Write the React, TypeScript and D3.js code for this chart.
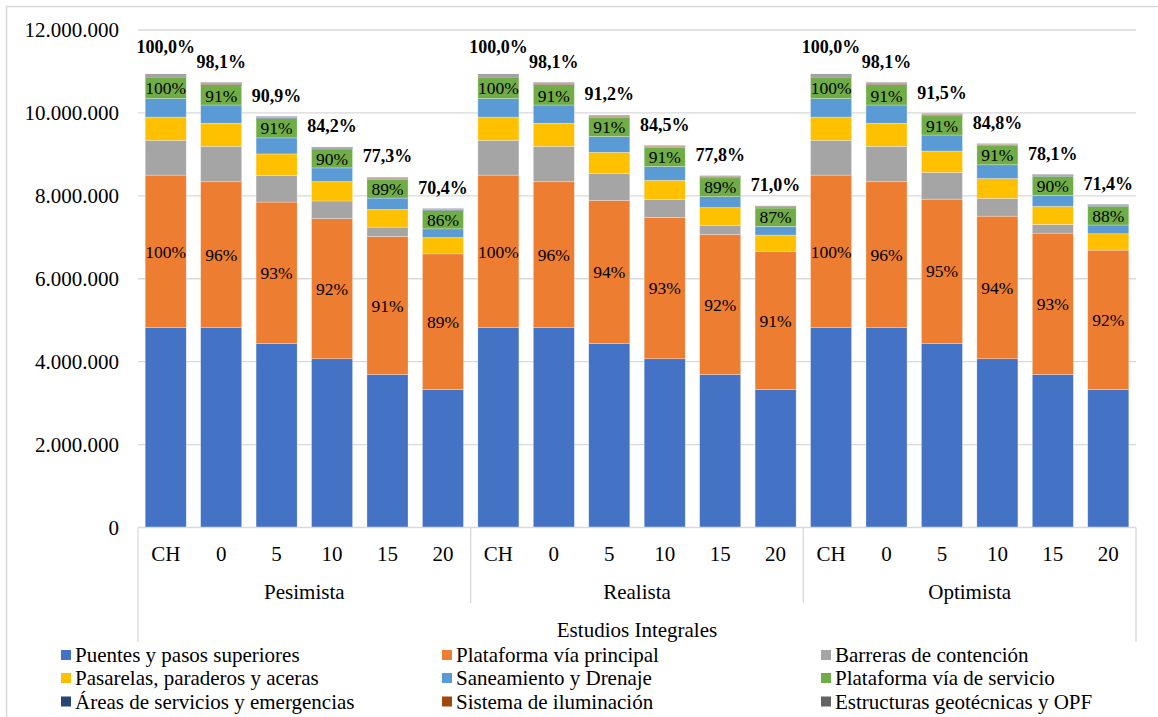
import React from "react";
import * as d3 from "d3";

const years = ["CH", "0", "5", "10", "15", "20"];
const scenarios = ["Pesimista", "Realista", "Optimista"];
const axisTitle = "Estudios Integrales";
const yTicks = [0, 2000000, 4000000, 6000000, 8000000, 10000000, 12000000];

const seriesNames = [
  "Puentes y pasos superiores",
  "Plataforma vía principal",
  "Barreras de contención",
  "Pasarelas, paraderos y aceras",
  "Saneamiento y Drenaje",
  "Plataforma vía de servicio",
  "Áreas de servicios y emergencias",
  "Sistema de iluminación",
  "Estructuras geotécnicas y OPF",
];
const seriesColors = [
  "#4472C4", "#ED7D31", "#A5A5A5", "#FFC000", "#5B9BD5", "#70AD47", "#264478", "#9E480E", "#636363",
];

// values in millions, 18 bars (Pesimista CH..20, Realista CH..20, Optimista CH..20)
const puentes = [
  4.82, 4.82, 4.44, 4.07, 3.69, 3.33,
  4.82, 4.82, 4.44, 4.07, 3.69, 3.33,
  4.82, 4.82, 4.44, 4.07, 3.69, 3.33,
];
const plataformaPrincipal = [
  3.68, 3.52, 3.41, 3.38, 3.33, 3.27,
  3.68, 3.52, 3.45, 3.41, 3.38, 3.33,
  3.68, 3.52, 3.48, 3.44, 3.41, 3.36,
];
const barreras = [
  0.84, 0.855, 0.643, 0.426, 0.225, 0.0,
  0.84, 0.855, 0.645, 0.428, 0.21, 0.0,
  0.84, 0.855, 0.645, 0.428, 0.21, 0.0,
];
const pasarelas = [
  0.56, 0.556, 0.518, 0.469, 0.428, 0.394,
  0.56, 0.556, 0.515, 0.467, 0.435, 0.394,
  0.56, 0.556, 0.515, 0.48, 0.435, 0.396,
];
const saneamiento = [
  0.445, 0.44, 0.387, 0.329, 0.273, 0.21,
  0.445, 0.44, 0.38, 0.331, 0.266, 0.21,
  0.445, 0.44, 0.387, 0.331, 0.266, 0.21,
];
const plataformaServicio = [
  0.51, 0.464, 0.464, 0.459, 0.454, 0.439,
  0.51, 0.464, 0.464, 0.464, 0.454, 0.444,
  0.51, 0.464, 0.464, 0.464, 0.459, 0.449,
];
const areas = [
  0.03, 0.03, 0.02, 0.018, 0.02, 0.02,
  0.03, 0.03, 0.02, 0.018, 0.02, 0.02,
  0.03, 0.03, 0.02, 0.018, 0.02, 0.02,
];
const iluminacion = [
  0.025, 0.025, 0.017, 0.014, 0.015, 0.015,
  0.025, 0.025, 0.017, 0.014, 0.015, 0.015,
  0.025, 0.025, 0.017, 0.014, 0.015, 0.015,
];
const estructuras = [
  0.025, 0.025, 0.017, 0.014, 0.015, 0.015,
  0.025, 0.025, 0.017, 0.014, 0.015, 0.015,
  0.025, 0.025, 0.017, 0.014, 0.015, 0.015,
];

const totalLabels = [
  "100,0%", "98,1%", "90,9%", "84,2%", "77,3%", "70,4%",
  "100,0%", "98,1%", "91,2%", "84,5%", "77,8%", "71,0%",
  "100,0%", "98,1%", "91,5%", "84,8%", "78,1%", "71,4%",
];
const principalLabels = [
  "100%", "96%", "93%", "92%", "91%", "89%",
  "100%", "96%", "94%", "93%", "92%", "91%",
  "100%", "96%", "95%", "94%", "93%", "92%",
];
const servicioLabels = [
  "100%", "91%", "91%", "90%", "89%", "86%",
  "100%", "91%", "91%", "91%", "89%", "87%",
  "100%", "91%", "91%", "91%", "90%", "88%",
];

const seriesValues = [
  puentes, plataformaPrincipal, barreras, pasarelas, saneamiento,
  plataformaServicio, areas, iluminacion, estructuras,
];

const FONT = "Liberation Serif, Times New Roman, DejaVu Serif, serif";
const W = 1158;
const H = 717;

export default function App() {
  const keys = scenarios.flatMap((s) => years.map((y) => `${s}|${y}`));
  const rows = keys.map((k, i) => {
    const r: any = { key: k };
    seriesNames.forEach((n, j) => (r[n] = seriesValues[j][i] * 1e6));
    return r;
  });
  const stacked = d3.stack<any>().keys(seriesNames)(rows);

  const plotLeft = 138;
  const plotRight = 1136;
  const x = d3.scaleBand<string>().domain(keys).range([plotLeft, plotRight]).paddingInner(0.26).paddingOuter(0.13);
  const y = d3.scaleLinear().domain([0, 12000000]).range([527.5, 30]);
  const fmt = (v: number) => d3.format(",")(v).replace(/,/g, ".");

  const groupW = (plotRight - plotLeft) / scenarios.length;

  const legendCols = [61, 442, 821];
  const legendRows = [655, 678, 701.5];
  const ts = { fontFamily: FONT };

  return (
    <svg width={W} height={H} style={{ position: "absolute", left: 0, top: 0, background: "#fff", fontFamily: FONT }}>
      <rect x={0} y={0} width={W} height={H} fill="#fff" />
      <rect x={6.5} y={6.5} width={W} height={H} fill="none" stroke="#d9d9d9" strokeWidth={1.5} />
      {yTicks.map((t) => (
        <g key={t}>
          {t > 0 && <line x1={plotLeft} x2={plotRight} y1={y(t)} y2={y(t)} stroke="#d9d9d9" strokeWidth={1.3} />}
          <text style={ts} x={119} y={y(t)} dy="0.35em" textAnchor="end" fontSize={21} fill="#000">
            {fmt(t)}
          </text>
        </g>
      ))}
      {stacked.map((layer, j) => (
        <g key={layer.key} fill={seriesColors[j]}>
          {layer.map((d, i) => {
            const h = y(d[0]) - y(d[1]);
            if (h <= 0) return null;
            return (
              <rect
                key={i}
                x={x(keys[i])}
                y={y(d[1])}
                width={x.bandwidth()}
                height={h}
                stroke="#ffffff"
                strokeOpacity={0.45}
                strokeWidth={0.6}
              />
            );
          })}
        </g>
      ))}
      {stacked[1].map((d, i) => (
        <text style={ts} key={"p" + i} x={(x(keys[i]) as number) + x.bandwidth() / 2} y={(y(d[0]) + y(d[1])) / 2} dy="0.35em" textAnchor="middle" fontSize={17.5}>
          {principalLabels[i]}
        </text>
      ))}
      {stacked[5].map((d, i) => (
        <text style={ts} key={"s" + i} x={(x(keys[i]) as number) + x.bandwidth() / 2} y={(y(d[0]) + y(d[1])) / 2} dy="0.35em" textAnchor="middle" fontSize={17.5}>
          {servicioLabels[i]}
        </text>
      ))}
      {stacked[stacked.length - 1].map((d, i) => (
        <text
          style={ts}
          key={"t" + i}
          x={(x(keys[i]) as number) + x.bandwidth() / 2}
          y={y(d[1]) - (i % years.length === 0 ? 27 : 21)}
          dy="0.35em"
          textAnchor="middle"
          fontSize={18}
          fontWeight="bold"
        >
          {totalLabels[i]}
        </text>
      ))}
      <line x1={plotLeft} x2={plotRight} y1={527.5} y2={527.5} stroke="#d9d9d9" strokeWidth={1.3} />
      <line x1={plotLeft} x2={plotLeft} y1={527.5} y2={642} stroke="#d9d9d9" strokeWidth={1.3} />
      <line x1={plotRight} x2={plotRight} y1={527.5} y2={642} stroke="#d9d9d9" strokeWidth={1.3} />
      {scenarios.slice(1).map((s, k) => (
        <line key={s} x1={plotLeft + groupW * (k + 1)} x2={plotLeft + groupW * (k + 1)} y1={527.5} y2={603} stroke="#d9d9d9" strokeWidth={1.3} />
      ))}
      {keys.map((k, i) => (
        <text style={ts} key={k} x={(x(k) as number) + x.bandwidth() / 2} y={553.5} dy="0.35em" textAnchor="middle" fontSize={21}>
          {years[i % years.length]}
        </text>
      ))}
      {scenarios.map((s, k) => (
        <text style={ts} key={s} x={plotLeft + groupW * (k + 0.5)} y={592} dy="0.35em" textAnchor="middle" fontSize={21}>
          {s}
        </text>
      ))}
      <text style={ts} x={(plotLeft + plotRight) / 2} y={630} dy="0.35em" textAnchor="middle" fontSize={21}>
        {axisTitle}
      </text>
      {seriesNames.map((n, j) => {
        const cx = legendCols[j % 3];
        const cy = legendRows[Math.floor(j / 3)];
        return (
          <g key={n}>
            <rect x={cx} y={cy - 5} width={10} height={10} fill={seriesColors[j]} />
            <text style={ts} x={cx + 14} y={cy} dy="0.35em" fontSize={21}>
              {n}
            </text>
          </g>
        );
      })}
    </svg>
  );
}
